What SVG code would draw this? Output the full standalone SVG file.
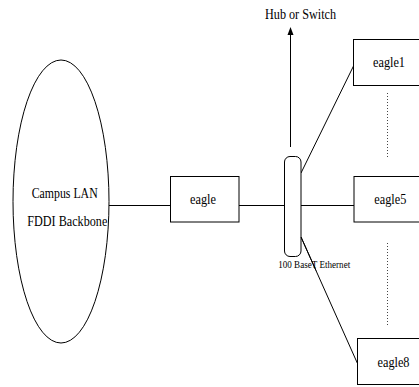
<svg xmlns="http://www.w3.org/2000/svg" width="419" height="387" viewBox="0 0 419 387">
  <style>
    .shape { fill: #fff; stroke: #000; stroke-width: 1; }
    .wire { fill: none; stroke: #000; stroke-width: 1; }
    .dots { fill: none; stroke: #444; stroke-width: 1; stroke-dasharray: 1 2; }
    .label { font-family: "Liberation Serif", "Times New Roman", serif; font-size: 15px; fill: #000; text-anchor: middle; }
    .small { font-family: "Liberation Serif", "Times New Roman", serif; font-size: 10.5px; fill: #000; text-anchor: middle; }
  </style>
  <defs>
    <marker id="arrowhead" markerWidth="8" markerHeight="10" refX="3" refY="0.5" orient="auto" markerUnits="userSpaceOnUse" viewBox="-3 0 6 8">
      <polygon points="0,0 -3,8 3,8" fill="#000"/>
    </marker>
  </defs>
  <rect width="419" height="387" fill="#fff"/>

  <!-- connectors -->
  <g id="connectors">
    <line class="wire" x1="109" y1="205.5" x2="170.5" y2="205.5"/>
    <line class="wire" x1="239" y1="205.5" x2="284.5" y2="205.5"/>
    <line class="wire" x1="301" y1="205.5" x2="354" y2="205.5"/>
    <line class="wire" x1="301" y1="173" x2="354" y2="65"/>
    <line class="wire" x1="301" y1="237" x2="357.5" y2="363.5"/>
    <line class="wire" x1="290.5" y1="147" x2="290.5" y2="34"/>
    <polygon points="290.5,27 287.5,35 293.5,35" fill="#000"/>
    <line class="dots" x1="387.5" y1="93" x2="387.5" y2="158"/>
    <line class="dots" x1="387.5" y1="243" x2="387.5" y2="325"/>
  </g>

  <!-- campus backbone -->
  <g id="campus">
    <ellipse class="shape" cx="61" cy="201.5" rx="48" ry="141.5"/>
    <text class="label" x="64.7" y="198" textLength="66" lengthAdjust="spacingAndGlyphs">Campus LAN</text>
    <text class="label" x="67.3" y="226" textLength="80" lengthAdjust="spacingAndGlyphs">FDDI Backbone</text>
  </g>

  <!-- gateway host -->
  <g id="eagle">
    <rect class="shape" x="170.5" y="176.5" width="68.5" height="45.5"/>
    <text class="label" x="203" y="204" textLength="26" lengthAdjust="spacingAndGlyphs">eagle</text>
  </g>

  <!-- ethernet segment -->
  <g id="ethernet">
    <rect class="shape" x="284.5" y="156.5" width="16.5" height="100" rx="5.5" ry="5.5"/>
    <text class="small" x="314.2" y="268" textLength="72" lengthAdjust="spacingAndGlyphs">100 BaseT Ethernet</text>
  </g>
  <line class="wire" x1="301" y1="237" x2="316" y2="270.5"/>

  <!-- hub label -->
  <g id="hub">
    <text class="label" x="300.5" y="19" textLength="71" lengthAdjust="spacingAndGlyphs">Hub or Switch</text>
  </g>

  <!-- cluster hosts -->
  <g id="eagle1">
    <rect class="shape" x="353.5" y="39.5" width="70" height="46"/>
    <text class="label" x="389" y="67" textLength="32" lengthAdjust="spacingAndGlyphs">eagle1</text>
  </g>
  <g id="eagle5">
    <rect class="shape" x="354" y="176.5" width="70" height="45.5"/>
    <text class="label" x="390.3" y="204" textLength="32" lengthAdjust="spacingAndGlyphs">eagle5</text>
  </g>
  <g id="eagle8">
    <rect class="shape" x="357.5" y="338.5" width="70" height="46"/>
    <text class="label" x="393.5" y="367" textLength="32" lengthAdjust="spacingAndGlyphs">eagle8</text>
  </g>
</svg>
